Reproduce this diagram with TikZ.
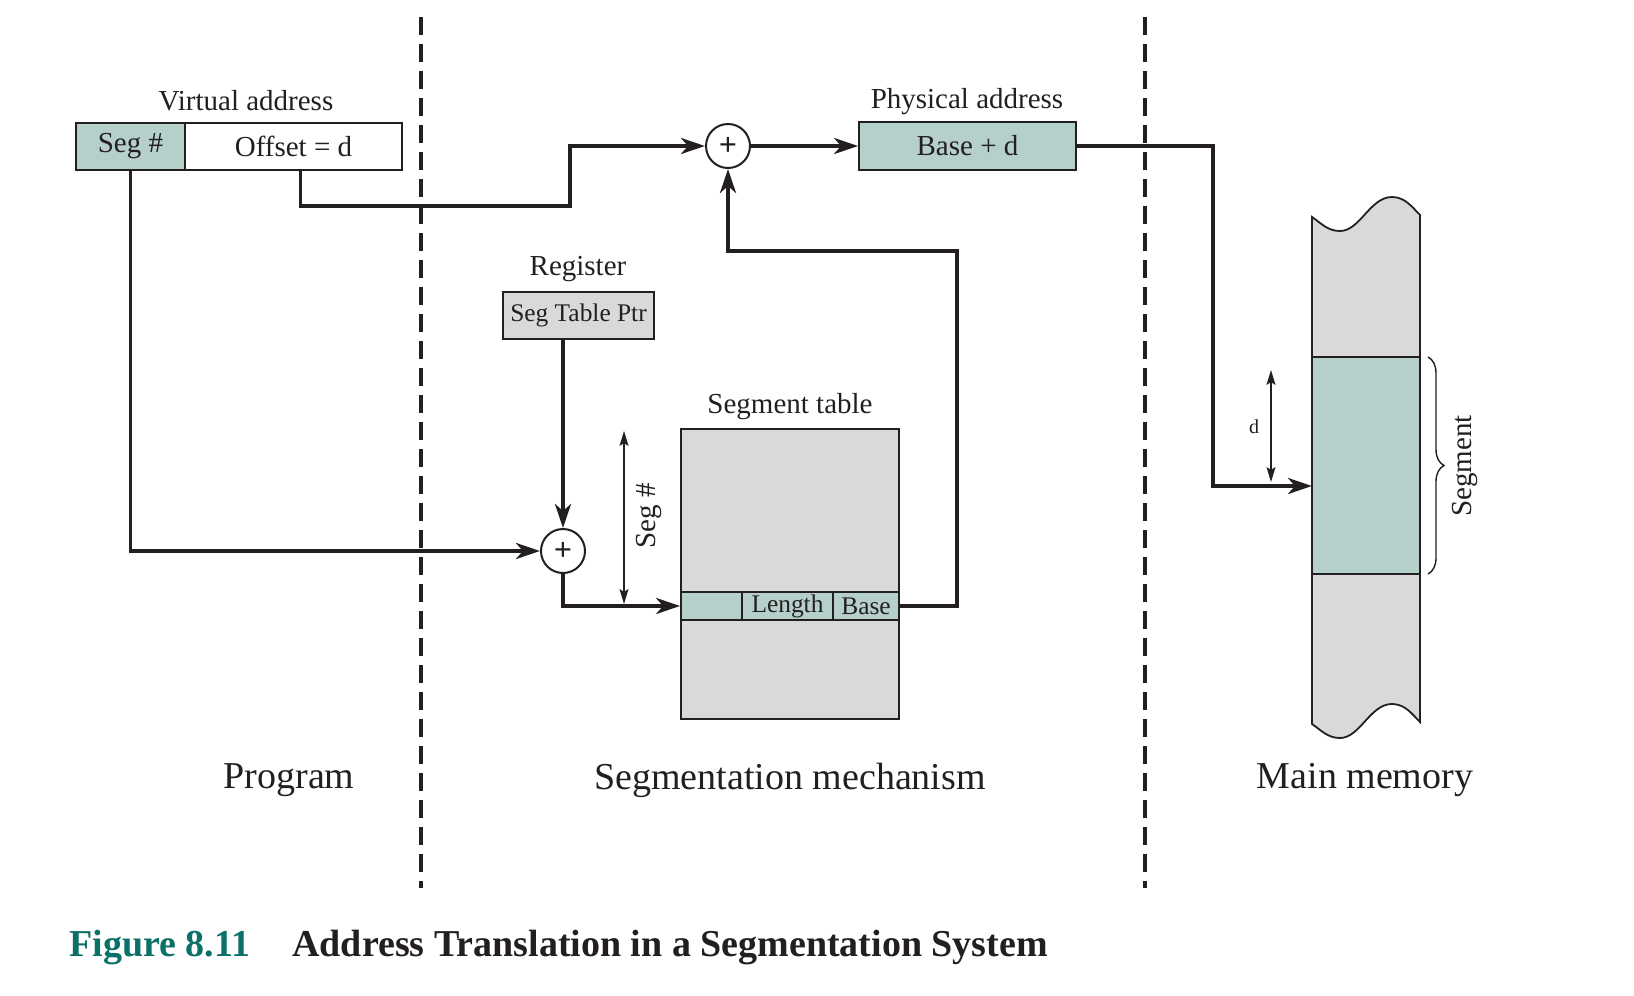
\documentclass[tikz,border=0pt]{standalone}
\usepackage{fontspec}
\setmainfont{Liberation Serif}
\usetikzlibrary{arrows.meta,decorations.pathreplacing}
\definecolor{tealfill}{HTML}{B5D0CA}
\definecolor{grayfill}{HTML}{D9D9D9}
\definecolor{figteal}{HTML}{0A7068}
\definecolor{ink}{HTML}{231F20}
\newcommand\fsz[1]{\fontsize{#1}{#1}\selectfont}
\begin{document}
\begin{tikzpicture}[x=0.5pt,y=-0.5pt,
  every node/.style={text=ink},
  conn/.style={draw=ink,line width=1.9pt,-{Stealth[length=12pt,width=8pt,inset=3.5pt]}},
  dim/.style={draw=ink,line width=0.7pt,{Stealth[length=7.5pt,width=4.5pt,inset=1.5pt]}-{Stealth[length=7.5pt,width=4.5pt,inset=1.5pt]}},
  box/.style={draw=ink,line width=0.9pt,inner sep=0pt,font=\fsz{14.5}},
  cell/.style={draw=ink,line width=0.9pt,inner sep=0pt,fill=tealfill,minimum height=14pt,font=\fsz{12.7}},
  lbl/.style={inner sep=0pt,font=\fsz{14.5}},
  big/.style={inner sep=0pt,font=\fsz{19}},
  circ/.style={draw=ink,circle,line width=1pt,fill=white,minimum size=22pt,inner sep=0pt,font=\fsz{16}\bfseries},
  dline/.style={draw=ink,line width=2pt,dash pattern=on 9pt off 4.5pt}
]
\useasboundingbox (0,0) rectangle (1634,996);

% dashed separators
\coordinate (d1t) at (421,17); \coordinate (d1b) at (421,888);
\coordinate (d2t) at (1145,17); \coordinate (d2b) at (1145,888);
\draw[dline] (d1t) -- (d1b);
\draw[dline] (d2t) -- (d2b);

% virtual address
\node[box,fill=tealfill,minimum width=54.5pt,minimum height=23.5pt] (seg) at (130.5,146.5) {Seg \#};
\node[box,fill=white,minimum width=108.5pt,minimum height=23.5pt] (off) at (293.5,146.5) {Offset = d};
\node[lbl] (va) at (246,101) {Virtual address};

% adders
\node[circ] (p1) at (728,146) {+};
\node[circ] (p2) at (563,551) {+};

% physical address
\node[box,fill=tealfill,minimum width=108.5pt,minimum height=24pt] (phys) at (967.5,146) {Base + d};
\node[lbl] (pa) at (967,102) {Physical address};

% register
\node[box,fill=grayfill,minimum width=75.5pt,minimum height=23.5pt,font=\fsz{12.7}] (reg) at (578.5,315.5) {Seg Table Ptr};
\node[lbl] (rl) at (578,269) {Register};

% segment table
\node[box,fill=grayfill,minimum width=109pt,minimum height=145pt] (tab) at (790,574) {};
\node[lbl] (tl) at (790,407) {Segment table};
\node[cell,minimum width=30.5pt] (c1) at (711.5,606) {};
\node[cell,minimum width=45.5pt] (c2) at (787.5,606) {Length};
\node[cell,minimum width=33pt] (c3) at (866,606) {Base};

% seg # dimension
\coordinate (sdt) at (624,431); \coordinate (sdb) at (624,604);
\draw[dim] (sdt) -- (sdb);
\node[lbl,rotate=90] (sdl) at (649,516) {Seg \#};

% main memory
\draw[draw=ink,line width=0.9pt,fill=grayfill]
  (1312,217) .. controls (1322,224) and (1328,231) .. (1340,231)
  .. controls (1360,231) and (1370,197) .. (1392,197)
  .. controls (1405,197) and (1412,207) .. (1420,215)
  -- (1420,722)
  .. controls (1412,714) and (1405,704) .. (1392,704)
  .. controls (1370,704) and (1360,738) .. (1340,738)
  .. controls (1328,738) and (1322,731) .. (1312,724) -- cycle;
\node[draw=ink,line width=0.9pt,fill=tealfill,minimum width=54pt,minimum height=108.5pt,inner sep=0pt] (segm) at (1366,465.5) {};
\coordinate (memin) at (1312,486);

% brace
\coordinate (bt) at (1428,357); \coordinate (bb) at (1428,574);
\draw[draw=ink,line width=0.7pt,decorate,decoration={brace,amplitude=8pt}] (bt) -- (bb);
\node[lbl,rotate=90] (segl) at (1465,466) {Segment};

% d dimension
\coordinate (ddt) at (1271,370); \coordinate (ddb) at (1271,482);
\draw[dim] (ddt) -- (ddb);
\node[inner sep=0pt,font=\fsz{10}] (dl) at (1254,427) {d};

% connectors
\coordinate (j1) at (570,206);
\draw[conn] ([xshift=3.5pt]off.south) |- (j1) |- (p1);
\draw[conn] (p1) -- (phys);
\coordinate (j2) at (1213,486);
\draw[conn] (phys.east) -| (j2) -- (memin);
\draw[conn] (reg.south -| p2) -- (p2);
\draw[conn] (seg.south) |- (p2);
\draw[conn] (p2) |- (c1.west);
\coordinate (j3) at (957,251);
\draw[conn] (c3.east) -| (j3) -| (p1);

% bottom labels
\node[big] (prog) at (289,780) {Program};
\node[big] (mech) at (790,780) {Segmentation mechanism};
\node[big] (mm) at (1365,780) {Main memory};

% caption
\node[anchor=west,inner sep=0pt,font=\fsz{19}\bfseries,text=figteal] (fig) at (69,947) {Figure 8.11};
\node[anchor=west,inner sep=0pt,font=\fsz{19}\bfseries] (cap) at (292,947) {Address Translation in a Segmentation System};
\end{tikzpicture}
\end{document}
